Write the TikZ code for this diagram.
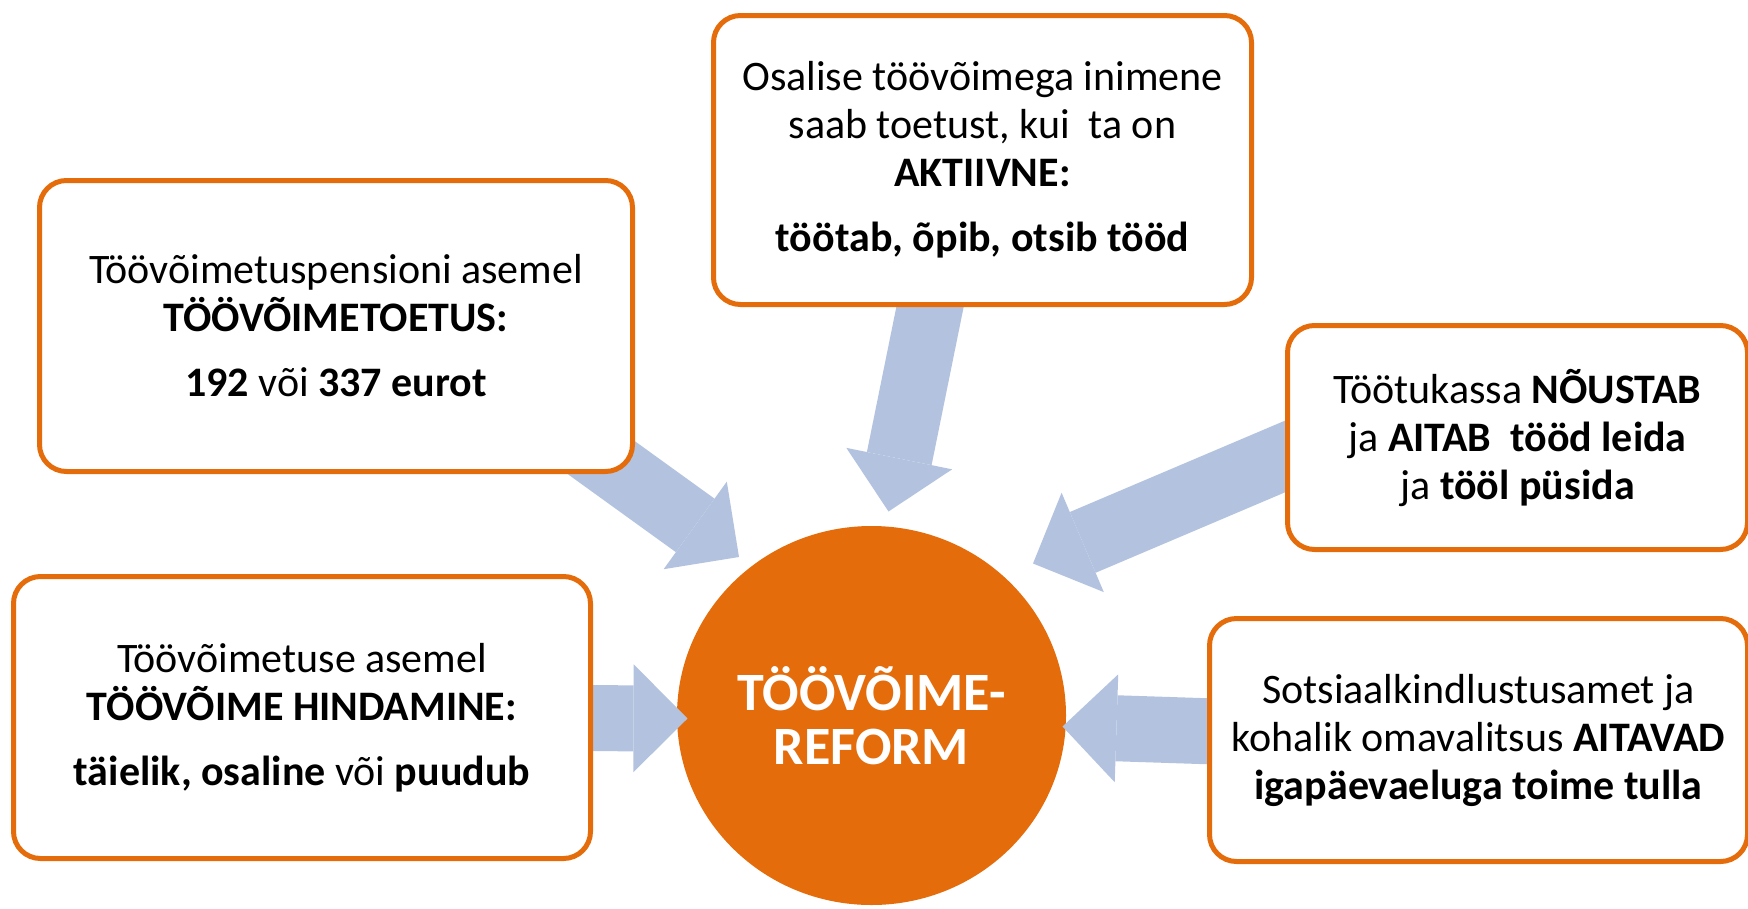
\documentclass[tikz,border=0pt]{standalone}
\usepackage{fontspec}
\setmainfont{Carlito}
\usetikzlibrary{arrows.meta,shapes.geometric}
\definecolor{reforange}{HTML}{E46C0A}
\definecolor{flowblue}{HTML}{B3C3DF}
\pgfdeclarelayer{background}
\pgfdeclarelayer{arrows}
\pgfsetlayers{background,arrows,main}

\begin{document}
\begin{tikzpicture}[
    x=1pt, y=-1pt,
    every node/.style={font=\fontsize{42}{48}\selectfont, align=center},
    box/.style={draw=reforange, fill=white, line width=5pt, rounded corners=27pt, inner sep=0pt},
    hub/.style={ellipse, fill=reforange, text=white, inner sep=0pt, font=\fontsize{54}{54}\selectfont\bfseries},
    flow/.style={draw=flowblue, line width=66pt, -{Triangle[width=108pt, length=54pt, line width=0pt 0 0]}}
]
\useasboundingbox (0,0) rectangle (1748,908);

% Nodes
\node[box, minimum width=593pt, minimum height=291pt] (pension) at (336,326)
  {Töövõimetuspensioni asemel\\ \textbf{TÖÖVÕIMETOETUS:}\\[17pt] \textbf{192} või \textbf{337 eurot}};
\node[box, minimum width=538pt, minimum height=289pt] (active) at (982.5,160)
  {Osalise töövõimega inimene\\ saab toetust, kui\ \ ta on\\ \textbf{AKTIIVNE:}\\[17pt] \textbf{töötab, õpib, otsib tööd}};
\node[box, minimum width=460pt, minimum height=224pt] (counsel) at (1517.5,437.5)
  {Töötukassa \textbf{NÕUSTAB}\\ ja \textbf{AITAB\ \ tööd leida}\\ ja \textbf{tööl püsida}};
\node[box, minimum width=538pt, minimum height=243pt] (support) at (1478.5,740)
  {Sotsiaalkindlustusamet ja\\ kohalik omavalitsus \textbf{AITAVAD}\\ \textbf{igapäevaeluga toime tulla}};
\node[box, minimum width=577pt, minimum height=282pt] (assess) at (302,717.5)
  {Töövõimetuse asemel\\ \textbf{TÖÖVÕIME HINDAMINE:}\\[17pt] \textbf{täielik, osaline} või \textbf{puudub}};

\begin{pgfonlayer}{background}
\node[hub, minimum width=389pt, minimum height=379pt] (reform) at (871.5,715.5) {TÖÖVÕIME-\\REFORM};
\end{pgfonlayer}

% Arrows
\begin{pgfonlayer}{arrows}
\draw[flow] ([shift={(-63,-37.5)}]pension.south east) -- ([shift={(-132.5,-158.5)}]reform.center);
\draw[flow] ([shift={(-44.5,-39.5)}]active.south) -- ([shift={(17,-204)}]reform.center);
\draw[flow] ([shift={(40,2)}]counsel.west) -- ([shift={(161.5,-152)}]reform.center);
\draw[flow] ([shift={(39,-7.5)}]support.west) -- ([shift={(191,11)}]reform.center);
\draw[flow] ([shift={(-39,0.5)}]assess.east) -- ([shift={(-184,3)}]reform.center);
\end{pgfonlayer}

\end{tikzpicture}
\end{document}
